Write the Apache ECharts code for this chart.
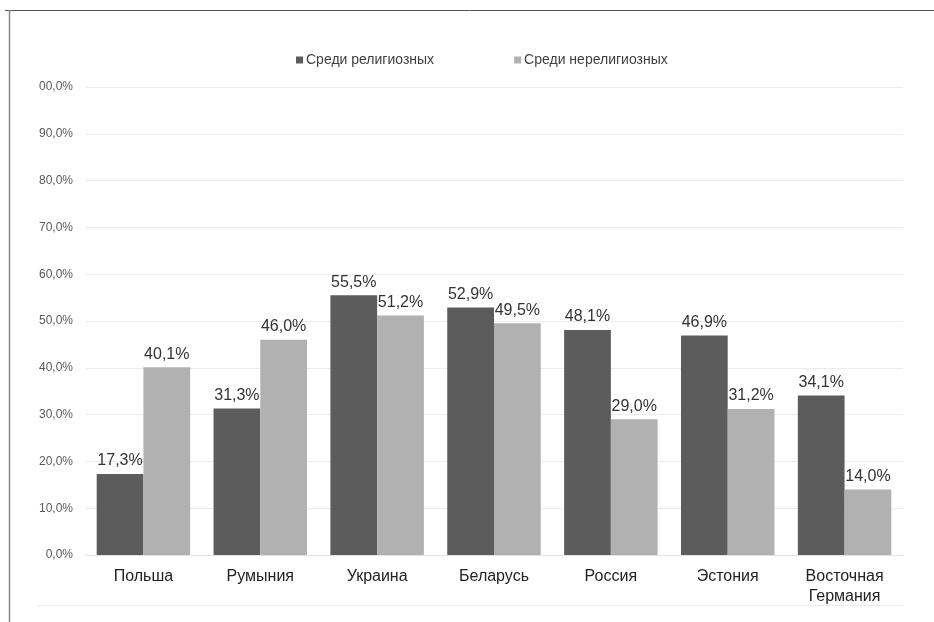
<!DOCTYPE html>
<html><head><meta charset="utf-8">
<script src="https://cdn.jsdelivr.net/npm/echarts@6/dist/echarts.min.js"></script>
<style>html,body{margin:0;padding:0;background:#fff}#c{width:934px;height:622px}</style>
</head><body><div id="c"></div>
<script>
const categories = ['Польша','Румыния','Украина','Беларусь','Россия','Эстония','Восточная\nГермания'];
const religious = [17.3, 31.3, 55.5, 52.9, 48.1, 46.9, 34.1];
const nonReligious = [40.1, 46.0, 51.2, 49.5, 29.0, 31.2, 14.0];
const seriesNames = ['Среди религиозных','Среди нерелигиозных'];
const tickLabels = ['0,0%','10,0%','20,0%','30,0%','40,0%','50,0%','60,0%','70,0%','80,0%','90,0%','00,0%'];

const fmt = v => v.toFixed(1).replace('.', ',') + '%';
const chart = echarts.init(document.getElementById('c'), null, {renderer:'canvas'});
const labelStyle = {show:true, position:'top', distance:5, fontFamily:'Liberation Sans, Arial, sans-serif', fontSize:16, color:'#333', formatter: p => fmt(p.value)};
chart.setOption({
  animation:false,
  backgroundColor:'#fff',
  textStyle:{fontFamily:'Liberation Sans, Arial, sans-serif'},
  legend:{
    left:291, top:48, itemWidth:7, itemHeight:7, itemGap:80, icon:'rect',
    textStyle:{fontSize:14, color:'#404040', padding:[0,0,0,-2]},
    data:seriesNames
  },
  grid:{left:85, right:31, top:87, bottom:67},
  xAxis:{
    type:'category', data:categories,
    axisLine:{show:true, lineStyle:{color:'#e3e3e3'}},
    axisTick:{show:false},
    axisLabel:{fontSize:16, color:'#222', margin:12, lineHeight:20, interval:0}
  },
  yAxis:{
    type:'value', min:0, max:100, interval:10,
    axisLine:{show:false}, axisTick:{show:false},
    splitLine:{lineStyle:{color:'#ececec'}},
    axisLabel:{fontSize:12, color:'#595959', margin:12, formatter: v => tickLabels[Math.round(v/10)]}
  },
  series:[
    {name:seriesNames[0], type:'bar', data:religious, barGap:'0%', barCategoryGap:'20%', itemStyle:{color:'#5c5c5c'}, label:labelStyle},
    {name:seriesNames[1], type:'bar', data:nonReligious, itemStyle:{color:'#b1b1b1'}, label:labelStyle}
  ],
  graphic:[
    {type:'line', shape:{x1:5, y1:10.5, x2:934, y2:10.5}, style:{stroke:'#555', lineWidth:1}},
    {type:'line', shape:{x1:9.5, y1:10, x2:9.5, y2:622}, style:{stroke:'#888', lineWidth:1.5}},
    {type:'line', shape:{x1:38, y1:605.5, x2:903, y2:605.5}, style:{stroke:'#ececec', lineWidth:1}}
  ]
});
</script></body></html>
